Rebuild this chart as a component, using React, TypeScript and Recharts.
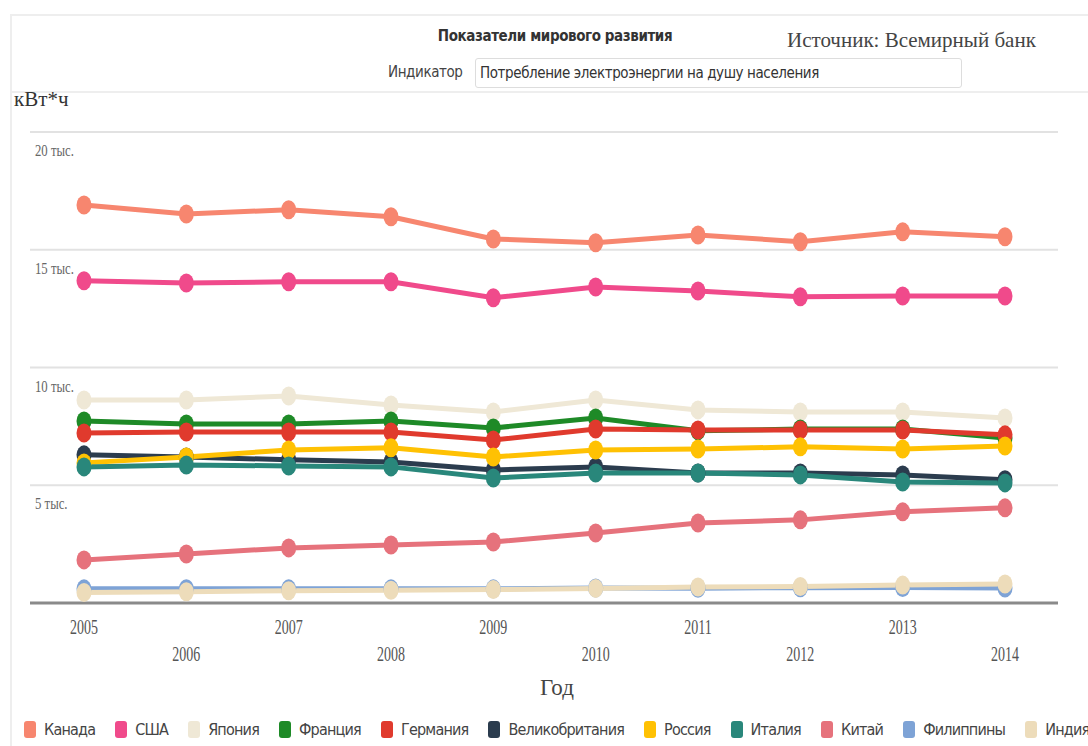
import { LineChart, Line, XAxis, YAxis, CartesianGrid } from "recharts"

const years = ["2005", "2006", "2007", "2008", "2009", "2010", "2011", "2012", "2013", "2014"]
const yTicks = [0, 5000, 10000, 15000, 20000]

const countries = ["Канада", "США", "Япония", "Франция", "Германия", "Великобритания", "Россия", "Италия", "Китай", "Филиппины", "Индия"]
const colors = ["#f7866f", "#f04a8b", "#efe8d6", "#1e8a27", "#e03a2d", "#2b3c4e", "#ffc103", "#29877b", "#e6727c", "#7ea3d6", "#eddcba"]

const canada = [16900, 16520, 16700, 16400, 15460, 15300, 15630, 15340, 15760, 15550]
const usa = [13680, 13590, 13640, 13640, 12960, 13420, 13250, 13000, 13040, 13040]
const japan = [8620, 8620, 8790, 8410, 8110, 8620, 8200, 8110, 8110, 7860]
const france = [7730, 7600, 7600, 7730, 7430, 7860, 7310, 7390, 7390, 7010]
const germany = [7220, 7260, 7260, 7260, 6920, 7390, 7350, 7350, 7350, 7140]
const uk = [6290, 6200, 6080, 5990, 5650, 5780, 5520, 5520, 5440, 5230]
const russia = [5950, 6200, 6500, 6590, 6200, 6500, 6540, 6630, 6540, 6670]
const italy = [5780, 5860, 5820, 5780, 5310, 5520, 5520, 5440, 5140, 5100]
const china = [1830, 2080, 2340, 2460, 2590, 2970, 3400, 3530, 3870, 4040]
const philippines = [600, 610, 600, 600, 600, 640, 630, 650, 660, 640]
const india = [450, 480, 520, 540, 570, 620, 680, 700, 760, 810]

const seriesValues = [canada, usa, japan, france, germany, uk, russia, italy, china, philippines, india]

const chartData = years.map((year, i) => {
  const row: any = { year }
  countries.forEach((c, k) => {
    row[c] = seriesValues[k][i]
  })
  return row
})

const serif = '"Liberation Serif", "DejaVu Serif", serif'
const narrow = '"Liberation Sans Narrow", "DejaVu Sans Condensed", "Open Sans", sans-serif'

// labels in the source look horizontally squeezed, so scale x only
const YTick = ({ y, payload }: any) => {
  if (payload.value === 0) return null
  return (
    <text transform={`translate(35, ${y + 24}) scale(0.75, 1)`} fontFamily={serif} fontSize={17} fill="#666">
      {payload.value / 1000} тыс.
    </text>
  )
}

const XTick = ({ x, y, payload, index }: any) => (
  <text
    transform={`translate(${x}, ${y + (index % 2 === 0 ? 22.5 : 49.5)}) scale(0.7, 1)`}
    textAnchor="middle"
    fontFamily={serif}
    fontSize={20}
    fill="#555"
  >
    {payload.value}
  </text>
)

const Dot = ({ cx, cy, stroke }: any) => {
  if (cx == null || cy == null) return null
  return <ellipse cx={cx} cy={cy} rx={7.5} ry={9.5} fill={stroke} />
}

const App = () => {
  return (
    <div style={{ position: "relative", width: 1088, height: 746, overflow: "hidden", background: "#fff" }}>
      <style>{`body{margin:0}`}</style>
      <div style={{ position: "absolute", left: 10, top: 14, right: 0, bottom: 0, borderTop: "2px solid #eee", borderLeft: "2px solid #eee" }} />
      <div style={{ position: "absolute", left: 10, top: 91, right: 0, borderTop: "2px solid #eee" }} />
      <div style={{ position: "absolute", left: 355, width: 400, top: 27, textAlign: "center", fontFamily: narrow, fontWeight: "bold", fontSize: 15, letterSpacing: -0.4, color: "#333" }}>
        Показатели мирового развития
      </div>
      <div style={{ position: "absolute", left: 787, top: 28, fontFamily: serif, fontSize: 21, color: "#444" }}>
        Источник: Всемирный банк
      </div>
      <div style={{ position: "absolute", left: 388, top: 63, fontFamily: narrow, fontSize: 15, letterSpacing: -0.4, color: "#444" }}>Индикатор</div>
      <div style={{ position: "absolute", left: 475, top: 58, width: 487, height: 30, border: "1px solid #ddd", borderRadius: 3, boxSizing: "border-box", paddingLeft: 4, lineHeight: "29px", fontFamily: narrow, fontSize: 15, letterSpacing: -0.4, color: "#333" }}>
        Потребление электроэнергии на душу населения
      </div>
      <div style={{ position: "absolute", left: 14, top: 87, fontFamily: serif, fontSize: 21, color: "#333" }}>кВт*ч</div>

      <div style={{ position: "absolute", left: 0, top: 0 }}>
        <LineChart width={1088} height={746} data={chartData} margin={{ top: 132, right: 30, bottom: 63, left: 29 }}>
          <CartesianGrid vertical={false} stroke="#e2e2e2" strokeWidth={2} />
          <XAxis
            dataKey="year"
            padding={{ left: 54, right: 53 }}
            axisLine={{ stroke: "#8a8a8a", strokeWidth: 3 }}
            tickLine={false}
            tick={<XTick />}
            interval={0}
            height={80}
          />
          <YAxis domain={[0, 20000]} ticks={yTicks} width={1} axisLine={false} tickLine={false} tick={<YTick />} />
          {countries.map((c, k) => (
            <Line
              key={c}
              dataKey={c}
              stroke={colors[k]}
              strokeWidth={5}
              dot={<Dot />}
              activeDot={false}
              isAnimationActive={false}
            />
          ))}
        </LineChart>
      </div>

      <div style={{ position: "absolute", left: 557, top: 675, transform: "translateX(-50%)", fontFamily: serif, fontSize: 23, color: "#444" }}>Год</div>

      <div style={{ position: "absolute", left: 24, top: 720, display: "flex", whiteSpace: "nowrap", fontFamily: narrow, fontSize: 16, letterSpacing: -0.8, color: "#444" }}>
        {countries.map((c, k) => (
          <div key={c} style={{ display: "flex", alignItems: "center", marginRight: 20 }}>
            <span style={{ display: "inline-block", width: 12, height: 17, borderRadius: 3, background: colors[k], marginRight: 8 }} />
            <span>{c}</span>
          </div>
        ))}
      </div>
    </div>
  )
}

export default App
